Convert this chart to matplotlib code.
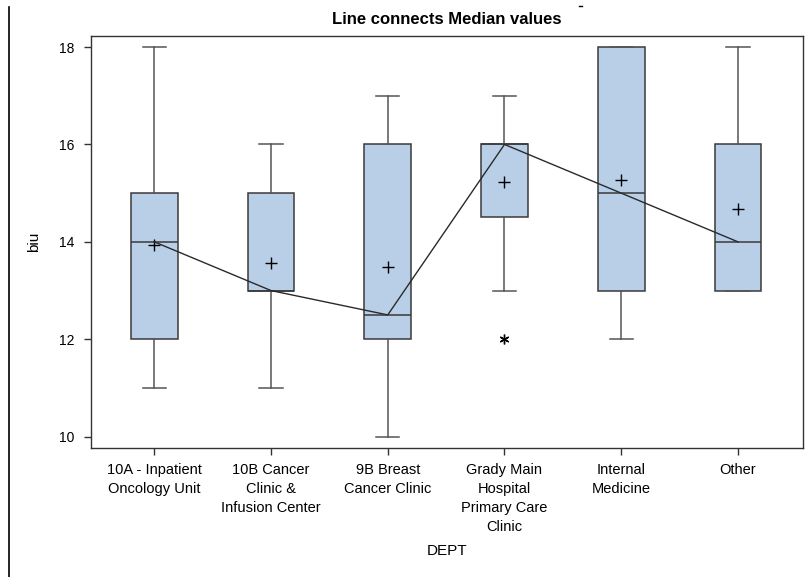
import matplotlib
matplotlib.use("Agg")
import matplotlib.pyplot as plt
from matplotlib.lines import Line2D

plt.rcParams['font.family'] = ['Liberation Sans', 'DejaVu Sans']

categories = ["10A - Inpatient\nOncology Unit", "10B Cancer\nClinic &\nInfusion Center",
              "9B Breast\nCancer Clinic", "Grady Main\nHospital\nPrimary Care\nClinic",
              "Internal\nMedicine", "Other"]
whisker_low = [11, 11, 10, 13, 12, 13]
q1 = [12, 13, 12, 14.5, 13, 13]
medians = [14, 13, 12.5, 16, 15, 14]
q3 = [15, 15, 16, 16, 18, 16]
whisker_high = [18, 16, 17, 17, 18, 18]
means = [13.93, 13.56, 13.49, 15.23, 15.27, 14.67]
outliers = [[], [], [], [12], [], []]
yticks = [10, 12, 14, 16, 18]

fig = plt.figure(figsize=(8.05, 5.77), dpi=100)
ax = fig.add_axes([91/805, 1-448/577, (803-91)/805, (448-36)/577])

stats = []
for i in range(len(categories)):
    stats.append(dict(med=medians[i], q1=q1[i], q3=q3[i], whislo=whisker_low[i],
                      whishi=whisker_high[i], mean=means[i], fliers=outliers[i]))

pos = list(range(len(categories)))
ax.bxp(stats, positions=pos, widths=0.40, capwidths=0.20, patch_artist=True, showmeans=True,
       boxprops=dict(facecolor='#b9cfe8', edgecolor='#3a3a3a', linewidth=1.1),
       medianprops=dict(color='#3a3a3a', linewidth=1.1),
       whiskerprops=dict(color='#555555', linewidth=1.1),
       capprops=dict(color='#555555', linewidth=1.1),
       meanprops=dict(marker='+', markeredgecolor='black', markersize=9, markeredgewidth=1.0),
       flierprops=dict(marker=(6, 2, 0), markeredgecolor='black', markersize=7, markeredgewidth=1.0),
       zorder=2)
ax.plot(pos, medians, color='#2a2a2a', linewidth=1.0, zorder=3)

ax.set_xlim(-0.542, 5.557)
ax.set_ylim(9.768, 18.226)
ax.set_xticks(pos)
ax.set_xticklabels(categories, fontsize=10.5, linespacing=1.45, va='top')
ax.set_yticks(yticks)
ax.set_yticklabels([str(v) for v in yticks], fontsize=10)
ax.tick_params(direction='out', length=5, width=1, color='#333333')
ax.tick_params(axis='x', pad=6)
ax.tick_params(axis='y', pad=7)
for s in ax.spines.values():
    s.set_color('#333333')
    s.set_linewidth(1.0)

ax.set_xlabel("DEPT", fontsize=11, labelpad=7)
ax.set_ylabel("biu", fontsize=11, labelpad=12.5)
ax.set_title("Line connects Median values", fontsize=12, fontweight='bold', pad=9)

fig.add_artist(Line2D([9/805, 9/805], [0, 1-7/577], color='black', linewidth=1.2, transform=fig.transFigure))
fig.add_artist(Line2D([579/805, 582/805], [1-6/577, 1-6/577], color='black', linewidth=1.0, transform=fig.transFigure))

fig.savefig("out.png", dpi=100)
